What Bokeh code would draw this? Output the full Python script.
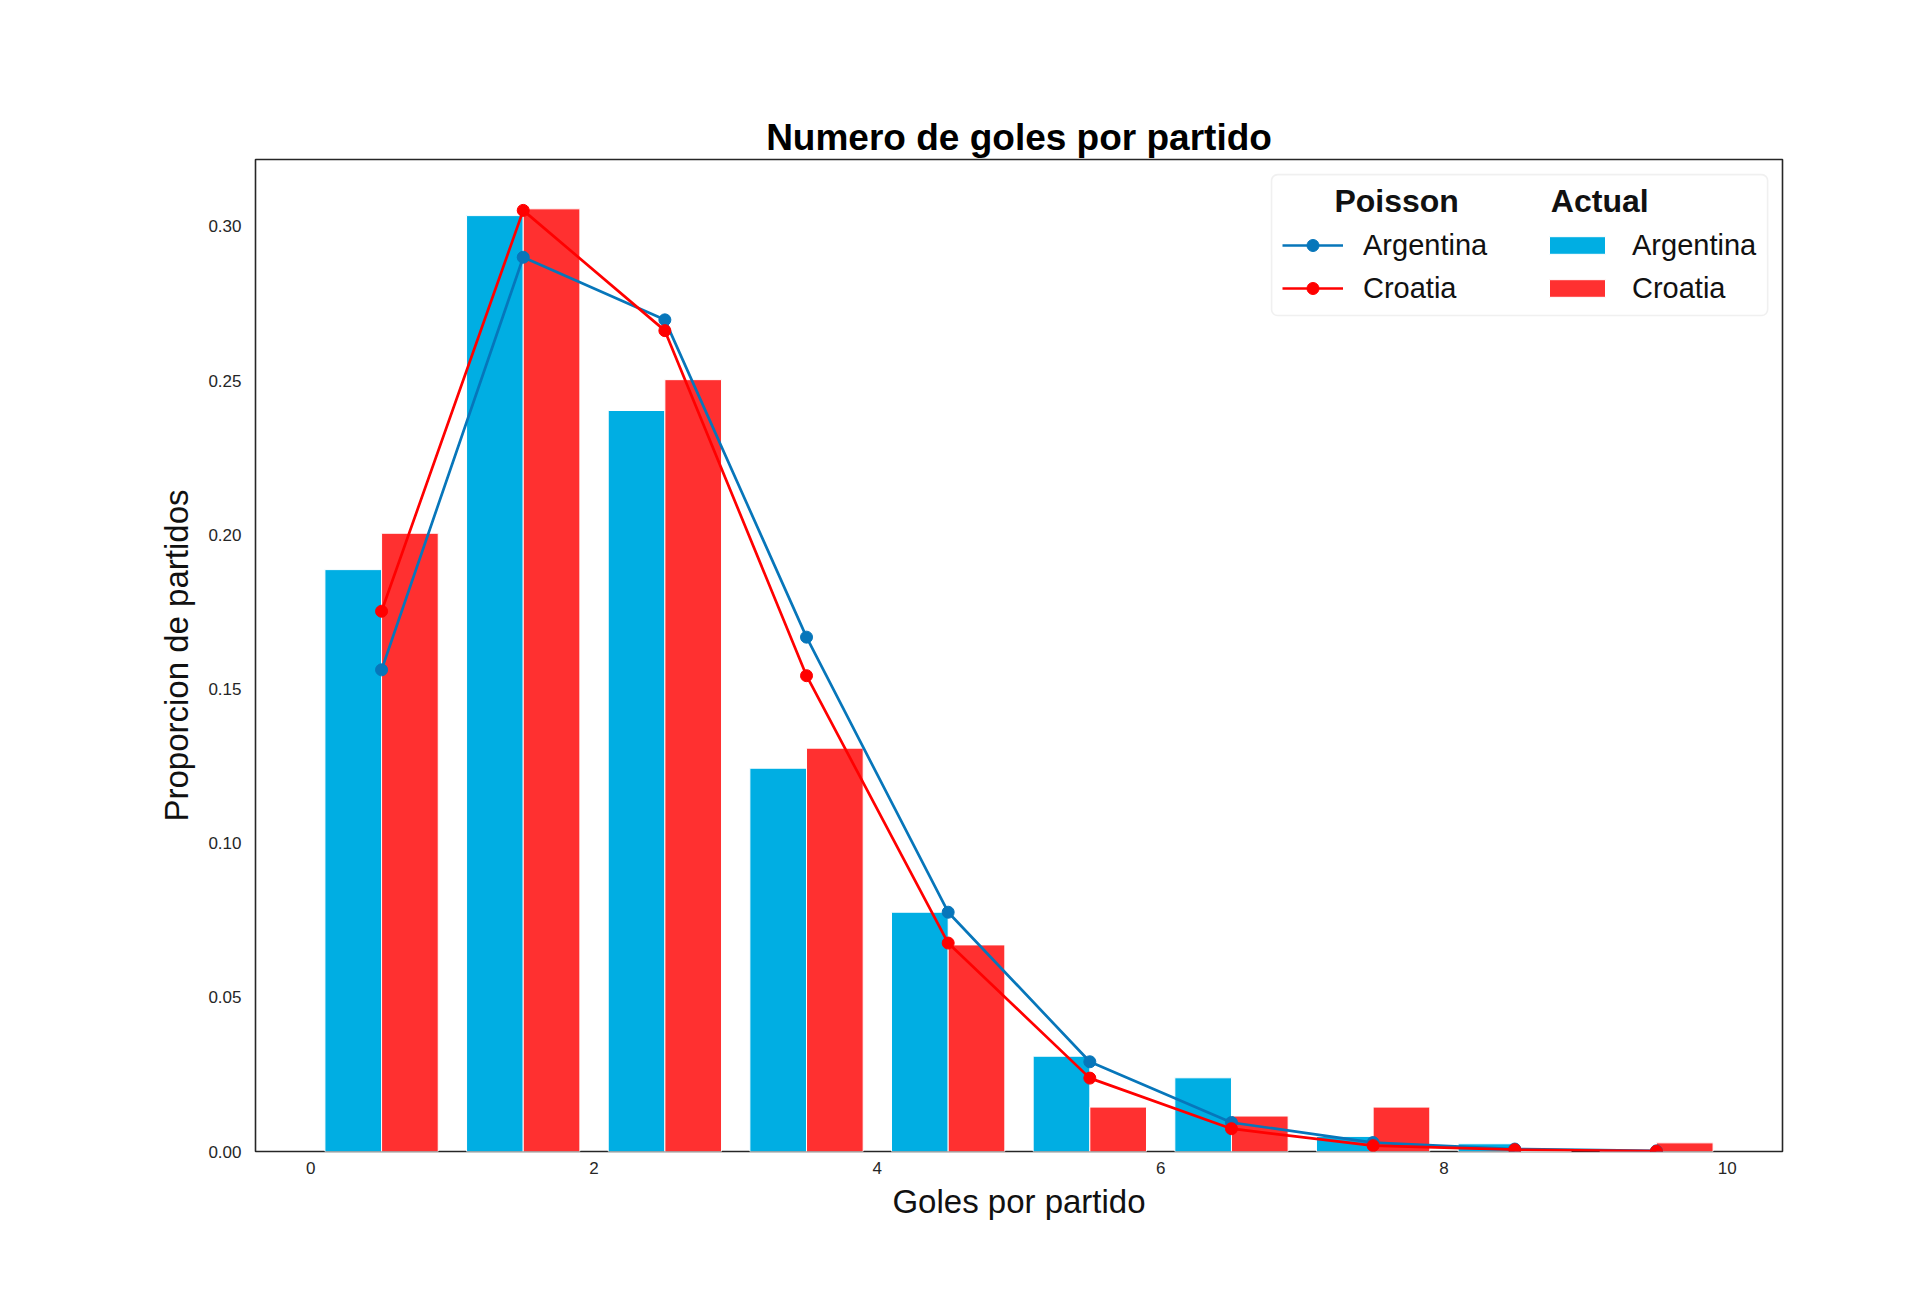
from bokeh.plotting import figure
from bokeh.models import (Legend, LegendItem, BoxAnnotation, Label, Range1d,
                          FixedTicker, NumeralTickFormatter)
from bokeh.embed import file_html
from bokeh.resources import INLINE

# ---- data ----
goals = [0, 1, 2, 3, 4, 5, 6, 7, 8, 9]
actual_argentina = [0.1887, 0.3035, 0.2403, 0.1243, 0.0776, 0.0309, 0.0239, 0.0049, 0.0025, 0.0]
actual_croatia = [0.2005, 0.3057, 0.2503, 0.1308, 0.0670, 0.0144, 0.0115, 0.0144, 0.0, 0.0028]
poisson_argentina = [0.1562, 0.2900, 0.2697, 0.1668, 0.0776, 0.0291, 0.0094, 0.0029, 0.0008, 0.0002]
poisson_croatia = [0.1752, 0.3052, 0.2662, 0.1543, 0.0676, 0.0238, 0.0074, 0.0019, 0.0006, 0.0001]
x_ticks = [0, 2, 4, 6, 8, 10]
y_ticks = [0.0, 0.05, 0.10, 0.15, 0.20, 0.25, 0.30]

FONT = "Liberation Sans"
BAR_BLUE = "#00AEE3"
BAR_RED = "#FF3030"
LINE_BLUE = "#0776BA"
LINE_RED = "#FF0000"

p = figure(width=1908, height=1304, output_backend="svg", toolbar_location=None,
           x_range=Range1d(-0.39, 10.39), y_range=Range1d(0, 0.3217),
           min_border_left=255, min_border_right=126, min_border_top=159,
           min_border_bottom=153, title="Numero de goles por partido")

p.background_fill_color = "white"
p.border_fill_color = "white"
p.outline_line_color = "#262626"
p.outline_line_width = 1.6
p.grid.visible = False

p.title.align = "center"
p.title.text_font = FONT
p.title.text_font_size = "37px"
p.title.text_font_style = "bold"
p.title.text_color = "black"
p.title.standoff = 4

p.xaxis.ticker = FixedTicker(ticks=x_ticks)
p.yaxis.ticker = FixedTicker(ticks=y_ticks)
p.yaxis.formatter = NumeralTickFormatter(format="0.00")
for ax in (p.xaxis, p.yaxis):
    ax.axis_line_color = None
    ax.major_tick_line_color = None
    ax.minor_tick_line_color = None
    ax.major_tick_out = 0
    ax.major_tick_in = 0
    ax.minor_tick_out = 0
    ax.minor_tick_in = 0
    ax.major_label_text_font = FONT
    ax.major_label_text_font_size = "17px"
    ax.major_label_text_color = "#262626"
    ax.axis_label_text_font = FONT
    ax.axis_label_text_font_size = "33px"
    ax.axis_label_text_font_style = "normal"
    ax.axis_label_text_color = "#111111"

p.xaxis.axis_label = "Goles por partido"
p.yaxis.axis_label = "Proporcion de partidos"
p.xaxis.major_label_standoff = 10
p.xaxis.axis_label_standoff = 6
p.yaxis.major_label_standoff = 14
p.yaxis.axis_label_standoff = 10

# bars (Actual)
blue_x = [g + 0.3 for g in goals]
red_x = [g + 0.7 for g in goals]
bars_a = p.vbar(x=blue_x, top=actual_argentina, width=0.4, bottom=0,
                fill_color=BAR_BLUE, line_color="white", line_width=1)
bars_c = p.vbar(x=red_x, top=actual_croatia, width=0.4, bottom=0,
                fill_color=BAR_RED, line_color="white", line_width=1)

# lines (Poisson)
pts_x = [g + 0.5 for g in goals]
line_a = p.line(pts_x, poisson_argentina, line_color=LINE_BLUE, line_width=2.7)
dots_a = p.scatter(pts_x, poisson_argentina, size=12, fill_color=LINE_BLUE, line_color=LINE_BLUE)
line_c = p.line(pts_x, poisson_croatia, line_color=LINE_RED, line_width=2.7)
dots_c = p.scatter(pts_x, poisson_croatia, size=12, fill_color=LINE_RED, line_color=LINE_RED)

# legend frame
box = BoxAnnotation(left=6.783, right=10.285, bottom=0.2711, top=0.3168,
                    fill_color="white", fill_alpha=0.85, line_color="#cccccc",
                    line_width=1.6, border_radius=6)
p.add_layout(box)

common = dict(border_line_alpha=0, background_fill_alpha=0, padding=0,
              spacing=9, label_standoff=20, label_height=34,
              label_text_font=FONT, label_text_font_size="29px",
              label_text_color="#111111")

leg_poisson = Legend(items=[LegendItem(label="Argentina", renderers=[line_a, dots_a]),
                            LegendItem(label="Croatia", renderers=[line_c, dots_c])],
                     location=(1027, 846), glyph_width=61, glyph_height=30, **common)
leg_actual = Legend(items=[LegendItem(label="Argentina", renderers=[bars_a]),
                           LegendItem(label="Croatia", renderers=[bars_c])],
                    location=(1287, 846), glyph_width=70, glyph_height=22, **common)
p.add_layout(leg_poisson)
p.add_layout(leg_actual)

for txt, xc in (("Poisson", 7.666), ("Actual", 9.10)):
    p.add_layout(Label(x=xc, y=0.3084, text=txt, text_align="center",
                       text_baseline="middle", text_font=FONT,
                       text_font_size="32px", text_font_style="bold",
                       text_color="#111111"))

open("out.html", "w").write(file_html(p, INLINE))
